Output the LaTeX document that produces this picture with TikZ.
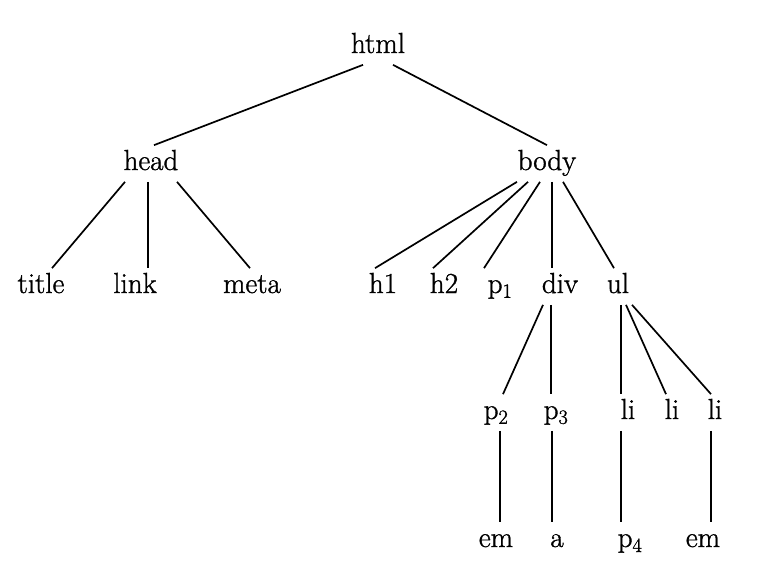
\documentclass[tikz,border=0pt]{standalone}
\usepackage{fontspec}
\newfontfamily\tagfont{Latin Modern Roman}[FakeBold=1.2]
\usetikzlibrary{calc}

\begin{document}
\begin{tikzpicture}[x=1pt, y=-1pt, line width=1.7pt,
    tag/.style={anchor=base, inner sep=0pt, text height=24pt, text depth=11pt,
      font=\tagfont\fontsize{29}{34}\selectfont}]
        \useasboundingbox (0,0) rectangle (768,573);

        \node[tag] (html) at (378,53) {html};

        \node[tag] (head) at (151,170) {head};
        \node[tag] (body) at (547,170) {body};

        \node[tag] (title) at (41,293) {title};
        \node[tag] (link) at (135,293) {link};
        \node[tag] (meta) at (252,293) {meta};
        \node[tag] (h1) at (383,293) {h1};
        \node[tag] (h2) at (444,293) {h2};
        \node[tag] (p1) at (500,293) {p\textsubscript{1}};
        \node[tag] (div) at (560,293) {div};
        \node[tag] (ul) at (618,293) {ul};

        \node[tag] (p2) at (496,419) {p\textsubscript{2}};
        \node[tag] (p3) at (556,419) {p\textsubscript{3}};
        \node[tag] (li1) at (628,419) {li};
        \node[tag] (li2) at (672,419) {li};
        \node[tag] (li3) at (715,419) {li};

        \node[tag] (em1) at (496,547) {em};
        \node[tag] (a) at (557,547) {a};
        \node[tag] (p4) at (630,547) {p\textsubscript{4}};
        \node[tag] (em2) at (703,547) {em};

        \foreach \parent/\px/\child/\cx in {html/-15/head/3, html/15/body/0,
            head/-26/title/11, head/-3/link/13, head/26/meta/-2,
            body/-30/h1/-8, body/-19/h2/-11, body/-7/p1/-16, body/5/div/-8, body/16/ul/-4,
            div/-17/p2/7, div/-9/p3/-5,
            ul/3/li1/-7, ul/8/li2/-6, ul/14/li3/-4,
            p2/4/em1/4, p3/-4/a/-5, li1/-7/p4/-9, li3/-4/em2/8}
        \draw ([xshift=\px]\parent.south) -- ([xshift=\cx]\child.north);
      \end{tikzpicture}
\end{document}
